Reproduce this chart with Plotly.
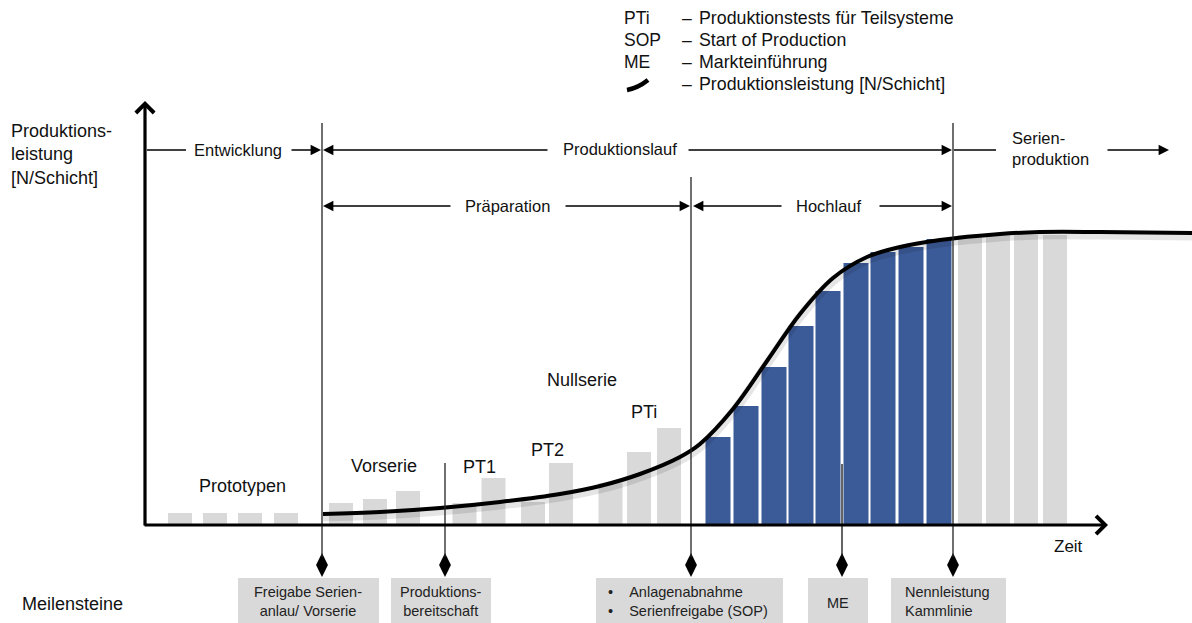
import plotly.graph_objects as go

# ---------------- data ----------------
# time positions (horizontal units) and production heights of the bars
gray_x = [180, 215, 250, 286, 341, 375, 408, 464.5, 493.5, 533, 561, 610.5, 639, 669, 970, 998, 1026, 1055]
gray_h = [12, 12, 12, 12, 22, 26, 34, 22, 47, 23, 62, 42, 73, 97, 290, 290, 290, 290]
blue_x = [718, 746, 774, 801, 828, 856, 883, 911, 939]
blue_h = [88, 119, 158, 199, 234, 262, 273, 278, 286]
# production capacity curve
curve_x = [323, 380, 440, 500, 560, 600, 640, 680, 700, 733, 767, 800, 833, 867, 900, 940, 1000, 1040, 1100, 1192]
curve_h = [11, 13, 17, 23, 31, 39, 51, 68, 81, 116, 164, 211, 247, 268, 278, 285, 291, 293, 293, 292]
# milestones
milestone_x = [322, 445, 691, 842, 953]
legend_keys = ["PTi", "SOP", "ME", ""]
legend_texts = ["Produktionstests für Teilsysteme", "Start of Production", "Markteinführung",
                "Produktionsleistung [N/Schicht]"]

W, H = 1192, 623
BASE = 525
FONT = "Liberation Sans, Arial, sans-serif"
GRAY = "#d9d9d9"
BLUE = "#3b5b98"


def Y(py):
    return BASE - py


fig = go.Figure()
fig.add_trace(go.Bar(x=gray_x, y=gray_h, width=24, marker=dict(color=GRAY, line=dict(width=0)),
                     hoverinfo="skip"))
fig.add_trace(go.Bar(x=blue_x, y=blue_h, width=25, marker=dict(color=BLUE, line=dict(width=0)),
                     hoverinfo="skip"))
# curve shadow + curve
fig.add_trace(go.Scatter(x=curve_x, y=[h - 3 for h in curve_h], mode="lines",
                         line=dict(color="rgba(0,0,0,0.10)", width=9, shape="spline", smoothing=1.0),
                         hoverinfo="skip"))
fig.add_trace(go.Scatter(x=curve_x, y=curve_h, mode="lines",
                         line=dict(color="black", width=4, shape="spline", smoothing=1.0),
                         hoverinfo="skip"))

shapes = []
annos = []


def vline(x, y0, y1, w=1.3, color="#222"):
    shapes.append(dict(type="line", x0=x, x1=x, y0=Y(y0), y1=Y(y1), xref="x", yref="y",
                       line=dict(color=color, width=w), layer="above"))


def hline(x0, x1, y, w=1.3):
    shapes.append(dict(type="line", x0=x0, x1=x1, y0=Y(y), y1=Y(y), xref="x", yref="y",
                       line=dict(color="black", width=w), layer="above"))


def arrow(x0, y0, x1, y1, head=2, w=1.3, size=1.6):
    annos.append(dict(x=x1, y=Y(y1), ax=x0, ay=Y(y0), xref="x", yref="y", axref="x", ayref="y",
                      showarrow=True, arrowhead=head, arrowwidth=w, arrowsize=size,
                      arrowcolor="black", text="", standoff=0, startstandoff=0))


def text(x, y, s, size=16.5, anchor="center", color="#111"):
    annos.append(dict(x=x, y=Y(y), xref="x", yref="y", text=s, showarrow=False,
                      xanchor=anchor, yanchor="middle", align=anchor if anchor != "center" else "center",
                      font=dict(family=FONT, size=size, color=color)))


# vertical milestone lines
vline(322, 123, 557)
vline(445, 463, 557)
vline(691, 177, 557)
vline(842, 464, 557, color="#111")
vline(953, 123, 557)

# axes
arrow(145, 527, 145, 101, head=4, w=3.2, size=1.1)
arrow(143, 525, 1108, 525, head=4, w=3.2, size=1.1)

# phase arrows row 1
R1 = 150
hline(147, 186, R1)
arrow(290, R1, 321, R1)
arrow(549, R1, 323, R1)
arrow(687, R1, 952, R1)
hline(954, 996, R1)
arrow(1106, R1, 1169, R1)
# row 2
R2 = 206
arrow(452, R2, 323, R2)
arrow(564, R2, 690, R2)
arrow(783, R2, 693, R2)
arrow(878, R2, 952, R2)

text(238, R1, "Entwicklung")
text(620, R1 - 1, "Produktionslauf")
text(1010, R1 - 2, "Serien-<br>produktion", anchor="left")
text(507, R2, "Präparation")
text(829, R2, "Hochlauf")

text(9, 154, "Produktions-<br>leistung<br>[N/Schicht]", size=18, anchor="left")

# in-chart labels
L = 18
text(242, 486, "Prototypen", size=L)
text(384, 466, "Vorserie", size=L)
text(479, 467, "PT1", size=L)
text(547, 450, "PT2", size=L)
text(582, 380, "Nullserie", size=L)
text(644, 412, "PTi", size=L)
text(1068, 546, "Zeit", size=17)
text(20, 604, "Meilensteine", size=L, anchor="left")

# legend
for i, (k, t) in enumerate(zip(legend_keys, legend_texts)):
    yy = 18 + i * 22
    if k:
        text(622, yy, k, size=17.5, anchor="left")
    text(680, yy, "–", size=17.5, anchor="left")
    text(697, yy, t, size=17.8, anchor="left")
shapes.append(dict(type="path", xref="x", yref="y",
                   path=f"M 627,{Y(90)} Q 638,{Y(88)} 648,{Y(80)}",
                   line=dict(color="black", width=4.5)))

# milestone diamonds
fig.add_trace(go.Scatter(x=milestone_x, y=[Y(565)] * len(milestone_x), mode="markers",
                         marker=dict(symbol="diamond-tall", size=17, color="black"),
                         hoverinfo="skip"))

# milestone boxes
boxes = [(238, 379), (391, 491), (596, 783), (808, 868), (891, 1006)]
for x0, x1 in boxes:
    shapes.append(dict(type="rect", x0=x0, x1=x1, y0=Y(578), y1=Y(623), xref="x", yref="y",
                       fillcolor=GRAY, line=dict(width=0), layer="below"))
BS = 14.5
text(308, 601, "Freigabe Serien-<br>anlau/ Vorserie", size=BS, color="#222")
text(441, 601, "Produktions-<br>bereitschaft", size=BS, color="#222")
text(606, 601, "•&nbsp;&nbsp;&nbsp;&nbsp;Anlagenabnahme<br>•&nbsp;&nbsp;&nbsp;&nbsp;Serienfreigabe (SOP)",
     size=BS, anchor="left", color="#222")
text(838, 603, "ME", size=BS, color="#222")
text(903, 601, "Nennleistung<br>Kammlinie", size=BS, anchor="left", color="#222")

fig.update_layout(
    width=W, height=H, margin=dict(l=0, r=0, t=0, b=0),
    paper_bgcolor="white", plot_bgcolor="white", showlegend=False,
    xaxis=dict(range=[0, W], visible=False, fixedrange=True),
    yaxis=dict(range=[BASE - H, BASE], visible=False, fixedrange=True),
    shapes=shapes, annotations=annos, barmode="overlay",
)
fig.write_html("out.html", config={"displayModeBar": False},
               post_script="document.body.style.margin='0';document.body.style.overflow='hidden';")
